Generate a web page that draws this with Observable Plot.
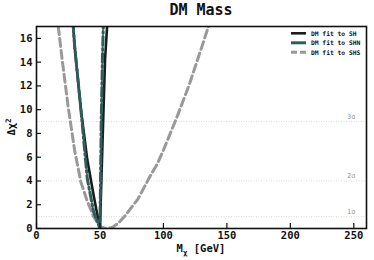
<!DOCTYPE html>
<html><head><meta charset="utf-8">
<script src="https://cdn.jsdelivr.net/npm/d3@7"></script>
<script src="https://cdn.jsdelivr.net/npm/@observablehq/plot@0.6"></script>
<style>body{margin:0;background:#fff} #chart{width:374px;height:260px}</style>
</head><body><div id="chart"></div>
<script>
// DM fit to SH (black solid)
const massSH = [25, 30, 35, 40, 45, 50, 52, 54, 56, 58];
const chi2SH = [23, 15.4, 10.0, 5.8, 2.8, 0, 7.2, 14.2, 17.6, 21];
// DM fit to SHN (teal dash-dot)
const massSHN = [25, 30, 35, 40, 45, 50, 51, 52, 53];
const chi2SHN = [23, 15.4, 10.0, 4.2, 1.4, 0, 9, 14.5, 18.5];
// DM fit to SHS (grey dashed)
const massSHS = [15, 20, 25, 30, 35, 40, 45, 50, 55, 60, 65, 70, 75, 80, 85, 90, 95, 100, 105, 110, 120, 130, 140];
const chi2SHS = [19, 14.4, 10.2, 6.6, 3.9, 2.3, 1.0, 0.15, 0, 0.1, 0.5, 1.1, 1.8, 2.5, 3.5, 4.5, 5.4, 6.6, 7.9, 9.2, 12.0, 15.2, 18.5];

const seriesNames = ["DM fit to SH", "DM fit to SHN", "DM fit to SHS"];
const xTicks = [0, 50, 100, 150, 200, 250];
const yTicks = [0, 2, 4, 6, 8, 10, 12, 14, 16];
const sigmaLevels = [1, 4, 9];
const sigmaLabels = ["1σ", "2σ", "3σ"];
const xDomain = [0, 260];
const yDomain = [0, 17];

const zip = (xs, ys) => xs.map((m, i) => ({m, c: ys[i]}));
const shData = zip(massSH, chi2SH);
const shnData = zip(massSHN, chi2SHN);
const shsData = zip(massSHS, chi2SHS);

const W = 374, H = 260, mL = 36, mR = 8, mT = 26, mB = 32;
const innerW = W - mL - mR, innerH = H - mT - mB;
const FONT = "DejaVu Sans Mono";
const styles = [
  {stroke: "#1c1c1c", strokeWidth: 2.6, dash: null},
  {stroke: "#2f5d5a", strokeWidth: 3, dash: "9,3,2,3"},
  {stroke: "#999999", strokeWidth: 3, dash: "8,4"}
];

const plot = Plot.plot({
  width: W, height: H,
  marginLeft: mL, marginRight: mR, marginTop: mT, marginBottom: mB,
  style: {fontFamily: FONT, fontSize: "10.5px", fontWeight: "bold", background: "white", color: "#111"},
  x: {domain: xDomain},
  y: {domain: yDomain},
  marks: [
    Plot.ruleY(sigmaLevels, {stroke: "#cfcfcf", strokeWidth: 0.8, strokeDasharray: "1,1.5"}),
    Plot.text(sigmaLevels, {y: d => d, text: (d, i) => sigmaLabels[i], frameAnchor: "right", dx: -11, dy: -5,
      textAnchor: "end", fill: "#999", fontSize: 7, fontWeight: "normal"}),
    Plot.line(shsData, {x: "m", y: "c", stroke: styles[2].stroke, strokeWidth: styles[2].strokeWidth, strokeDasharray: styles[2].dash, clip: true}),
    Plot.line(shData, {x: "m", y: "c", stroke: styles[0].stroke, strokeWidth: styles[0].strokeWidth, clip: true}),
    Plot.line(shnData, {x: "m", y: "c", stroke: styles[1].stroke, strokeWidth: styles[1].strokeWidth, strokeDasharray: styles[1].dash, clip: true}),
    Plot.axisX(xTicks, {tickSize: 0, tickPadding: 3, label: null}),
    Plot.axisY(yTicks, {tickSize: 0, tickPadding: 4, label: null}),
    Plot.tickX(xTicks, {x: d => d, insetTop: innerH - 5, stroke: "#111", strokeWidth: 1.2}),
    Plot.tickY(yTicks, {y: d => d, insetRight: innerW - 5, stroke: "#111", strokeWidth: 1.2}),
    Plot.frame({stroke: "#111", strokeWidth: 1.6})
  ]
});
document.getElementById("chart").appendChild(plot);

const svg = d3.select(plot);
// title
svg.append("text").attr("x", mL + innerW / 2).attr("y", 15).attr("text-anchor", "middle")
  .attr("font-family", FONT).attr("font-weight", "bold").attr("font-size", 15).attr("fill", "#111").text("DM Mass");
// x label
const xl = svg.append("text").attr("x", mL + innerW / 2).attr("y", 252).attr("text-anchor", "middle")
  .attr("font-family", FONT).attr("font-weight", "bold").attr("font-size", 10.5).attr("fill", "#111");
xl.append("tspan").text("M");
xl.append("tspan").attr("font-size", 7.5).attr("dy", 2.5).text("χ");
xl.append("tspan").attr("dy", -2.5).text(" [GeV]");
// y label
const yl = svg.append("text").attr("transform", `translate(15,${mT + innerH / 2}) rotate(-90)`).attr("text-anchor", "middle")
  .attr("font-family", FONT).attr("font-weight", "bold").attr("font-size", 10.5).attr("fill", "#111");
yl.append("tspan").text("Δχ");
yl.append("tspan").attr("font-size", 7.5).attr("dy", -4).text("2");
// legend
const lg = svg.append("g").attr("text-anchor", "start");
seriesNames.forEach((name, i) => {
  const y = 33.3 + i * 9.5;
  lg.append("line").attr("x1", 291).attr("x2", 306).attr("y1", y).attr("y2", y)
    .attr("stroke", styles[i].stroke).attr("stroke-width", styles[i].strokeWidth)
    .attr("stroke-dasharray", i === 2 ? "6,3" : null);
  lg.append("text").attr("x", 311).attr("y", y + 2.2).attr("text-anchor", "start")
    .attr("font-family", FONT).attr("font-weight", "bold")
    .attr("font-size", 6.3).attr("fill", "#111").text(name);
});
</script></body></html>
